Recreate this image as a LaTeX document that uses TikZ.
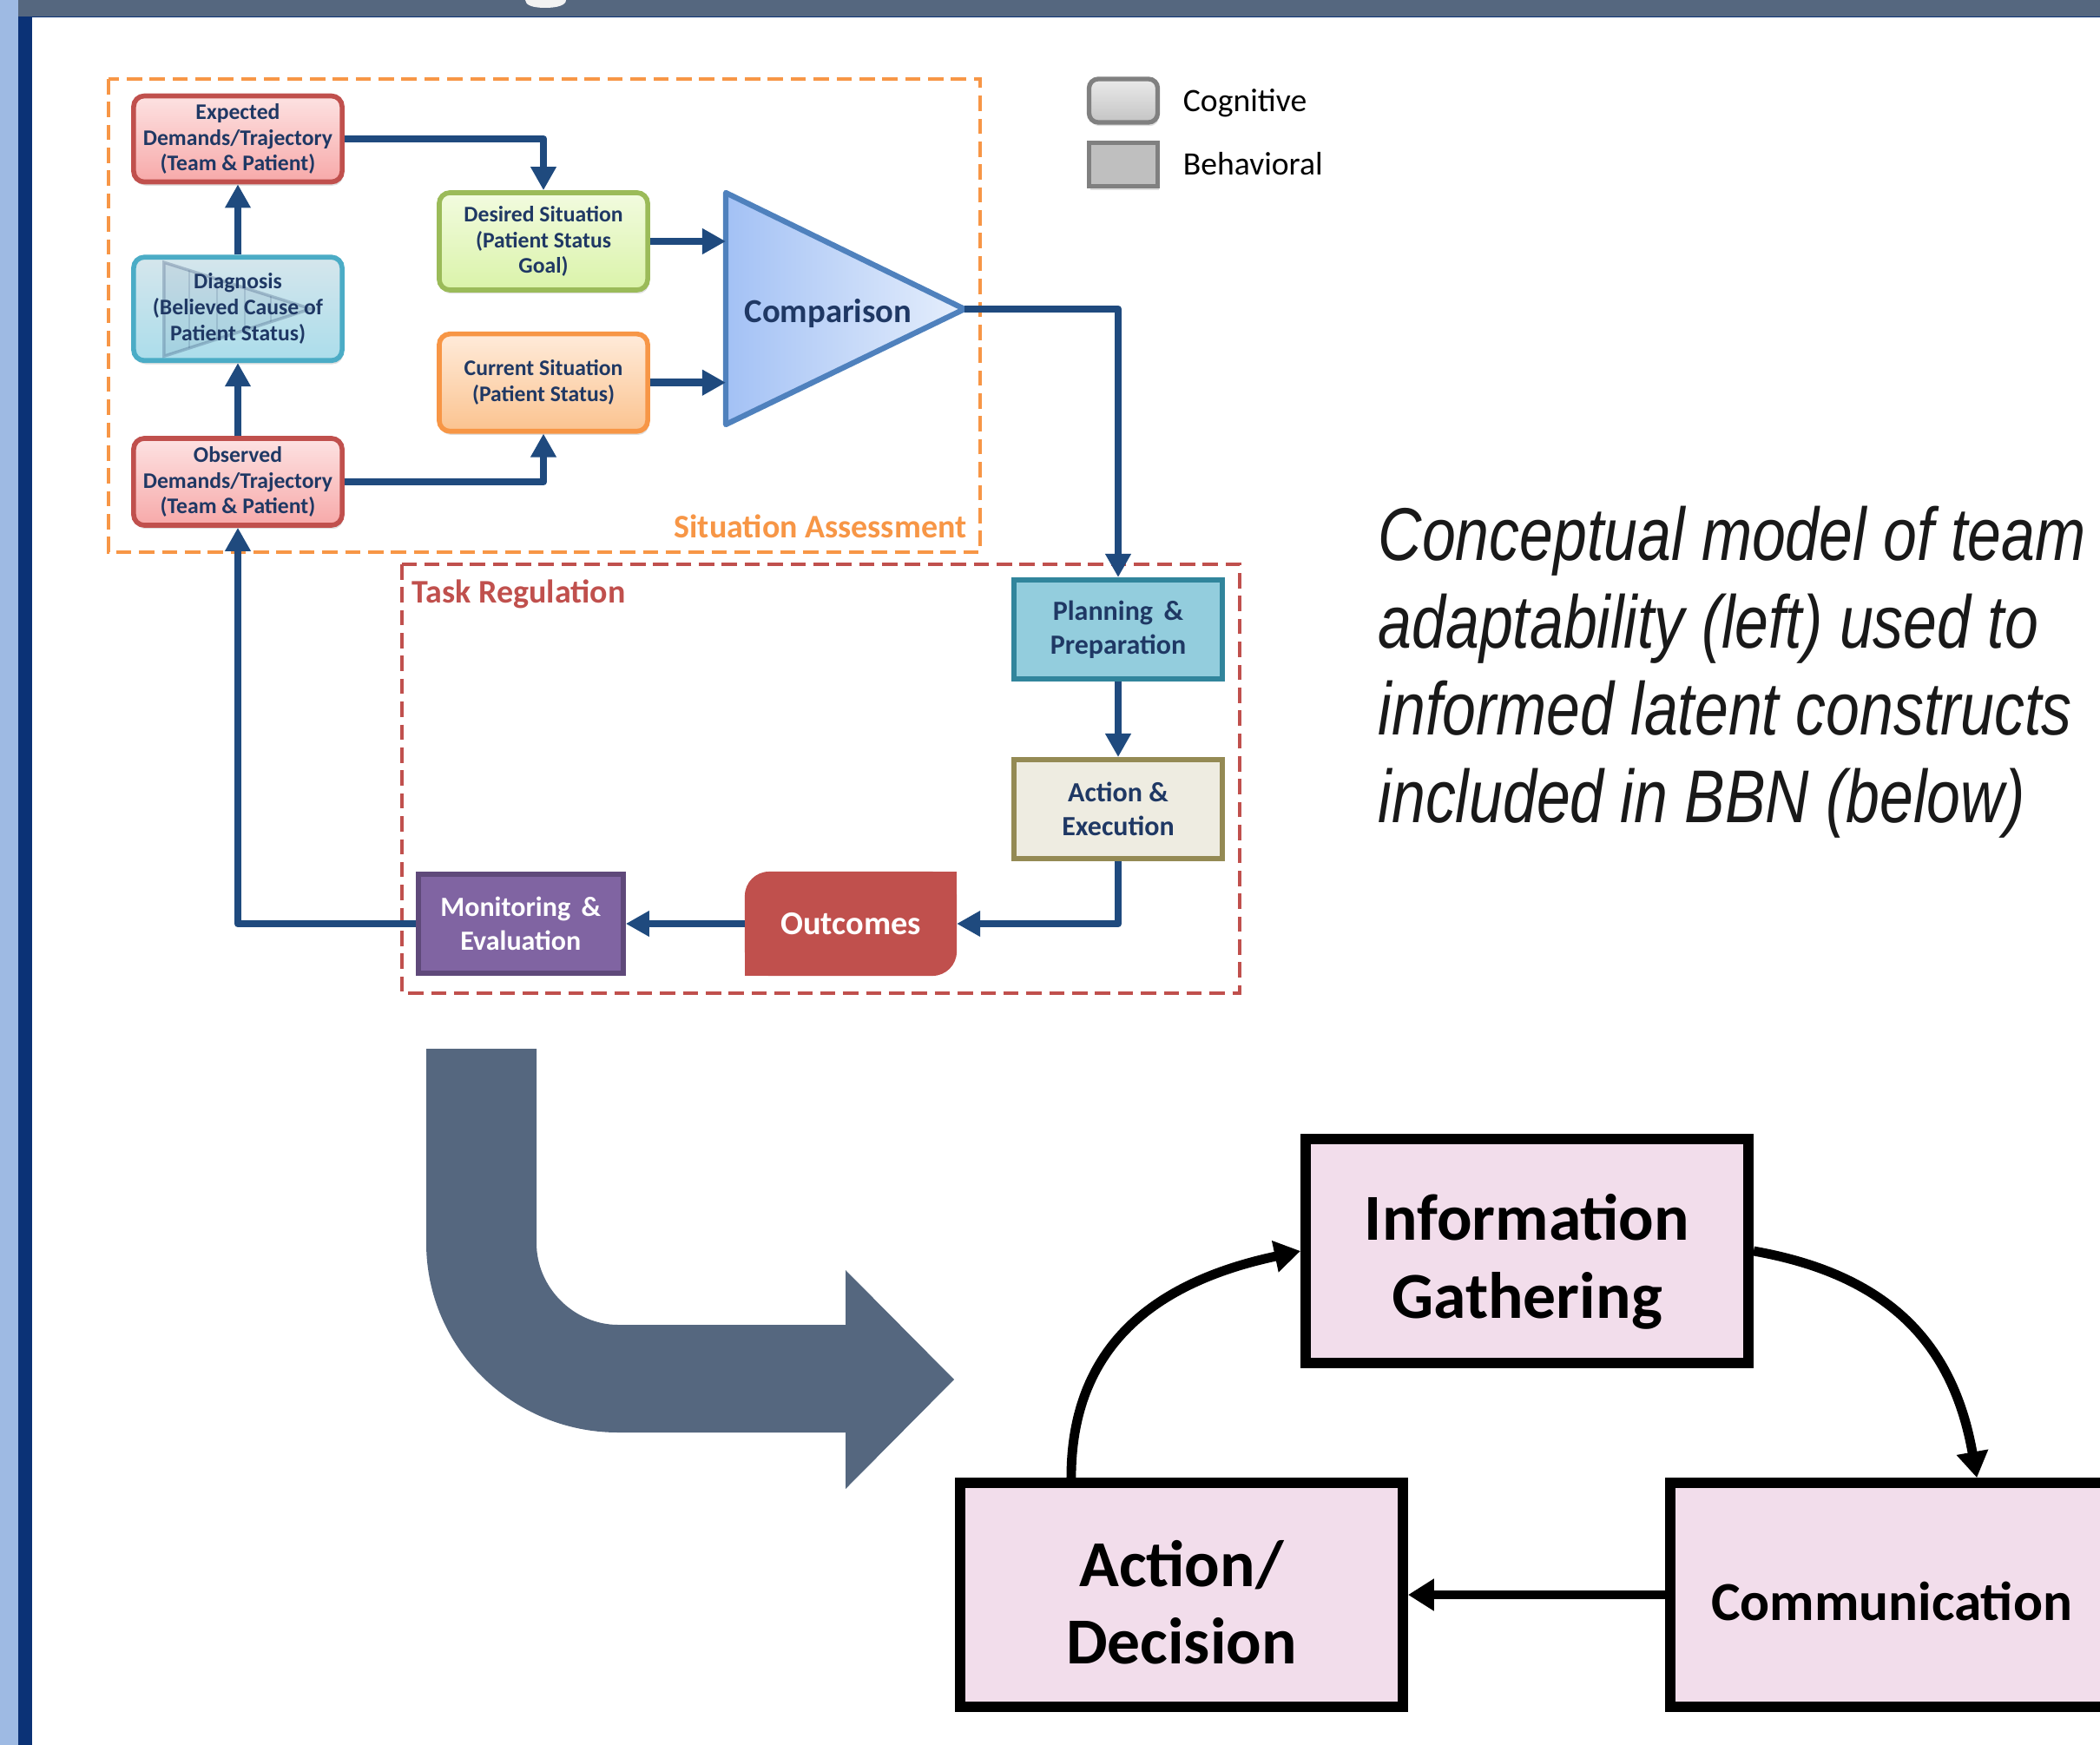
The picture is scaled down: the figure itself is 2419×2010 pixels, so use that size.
\documentclass[tikz,border=0pt]{standalone}
\usepackage{fontspec}
\setmainfont{Carlito}
\newfontfamily\capfont[FakeStretch=0.81]{Liberation Sans}
\usetikzlibrary{arrows.meta,backgrounds,positioning,shadows}

\definecolor{barslate}{HTML}{55677F}
\definecolor{stripblue}{HTML}{9EBAE3}
\definecolor{stripnavy}{HTML}{0B3276}
\definecolor{flowblue}{HTML}{1F4A7E}
\definecolor{boxtext}{HTML}{1F3864}
\definecolor{sared}{HTML}{C0504D}
\definecolor{saorange}{HTML}{F79646}
\definecolor{redtop}{HTML}{FDE2E2}
\definecolor{redbot}{HTML}{F7A9A9}
\definecolor{diagtop}{HTML}{D5E6EC}
\definecolor{diagbot}{HTML}{ABDDEB}
\definecolor{diagline}{HTML}{4BACC6}
\definecolor{desirtop}{HTML}{F2FBDF}
\definecolor{desirbot}{HTML}{DAF3A9}
\definecolor{desirline}{HTML}{9BBB59}
\definecolor{currtop}{HTML}{FFEBDA}
\definecolor{currbot}{HTML}{FBC38F}
\definecolor{cmpleft}{HTML}{A3C1F5}
\definecolor{cmpright}{HTML}{E6EFFC}
\definecolor{cmpline}{HTML}{4F81BD}
\definecolor{planfill}{HTML}{93CDDD}
\definecolor{planline}{HTML}{31859C}
\definecolor{actfill}{HTML}{EEECE1}
\definecolor{actline}{HTML}{948A54}
\definecolor{monfill}{HTML}{8064A2}
\definecolor{monline}{HTML}{5F497A}
\definecolor{legline}{HTML}{808080}
\definecolor{legtop}{HTML}{EAEAEA}
\definecolor{legbot}{HTML}{C4C4C4}
\definecolor{legfill}{HTML}{BFBFBF}
\definecolor{bbnpink}{HTML}{F2DDEB}

\begin{document}
\begin{tikzpicture}
    [x=0.01cm, y=-0.01cm,
    % STYLES
    % The sabox style is used for the boxes of the situation assessment
    sabox/.style={rectangle, rounded corners=3.5pt, line width=1.6pt, minimum width=2.40cm, align=center, inner sep=1pt, text=boxtext, font=\bfseries\fontsize{7.3}{8.5}\selectfont, drop shadow={opacity=0.25, shadow xshift=0.4pt, shadow yshift=-1.2pt}},
    % The trbox style is used for the boxes of the task regulation
    trbox/.style={rectangle, line width=1.7pt, minimum width=2.40cm, minimum height=1.14cm, align=center, inner sep=1pt, font=\bfseries\fontsize{9.1}{11.2}\selectfont},
    flow/.style={line width=2.4pt, draw=flowblue, line join=round, -{Triangle[length=7.7pt,width=8pt]}},
    areabox/.style={line width=1pt, dash pattern=on 5pt off 2.5pt},
    arealabel/.style={font=\bfseries\fontsize{10.8}{12}\selectfont, inner sep=0pt},
    legbox/.style={rectangle, draw=legline, line width=1.5pt, minimum width=0.79cm, minimum height=0.50cm, drop shadow={opacity=0.25, shadow xshift=0.4pt, shadow yshift=-1.2pt}},
    legtext/.style={font=\fontsize{10.7}{13}\selectfont, inner sep=0pt, text height=7pt, text depth=0pt},
    % The bbnbox style is used for the constructs of the BBN
    bbnbox/.style={rectangle, draw=black, line width=3.3pt, fill=bbnpink, minimum width=5.10cm, minimum height=2.58cm, align=center, font=\bfseries\fontsize{21.5}{25.5}\selectfont},
    bbnflow/.style={line width=3.1pt, -{Triangle[length=8.5pt,width=10pt]}},
    captiontext/.style={font=\capfont\itshape\fontsize{24.5}{28.7}\selectfont, align=left, inner sep=0pt, anchor=north west}]

    \useasboundingbox (0,0) rectangle (2419,2010);
    \clip (0,0) rectangle (2419,2010);

    % Slide frame
    \fill[stripblue] (0,0) rectangle (21,2010);
    \fill[barslate] (21,0) rectangle (2419,19);
    \fill[stripnavy] (21,19) rectangle (2419,20.5);
    \fill[stripnavy] (21,19) rectangle (37,2010);
    \fill[white!95!black] (605,0) -- (652,0) .. controls (652,6) and (642,9) .. (628,9) .. controls (614,9) and (605,6) .. (605,0) -- cycle;

    % Draw areas
    \draw[areabox, draw=saorange] (125,91) rectangle (1129,636);
    \draw[areabox, draw=sared] (463,650) rectangle (1428,1144);
    \node[arealabel, text=saorange, anchor=east] (salabel) at (1114,606) {Situation Assessment};
    \node[arealabel, text=sared, anchor=west] (trlabel) at (474,684) {Task Regulation};

    % Draw situation assessment
    \node[sabox, draw=sared, top color=redtop, bottom color=redbot, minimum height=1.00cm] (observed) at (274,555) {Observed\\Demands/Trajectory\\(Team \& Patient)};
    \node[sabox, draw=diagline, top color=diagtop, bottom color=diagbot, minimum height=1.19cm, above=0.84cm of observed,
    path picture={
    \coordinate (wmtop) at ([xshift=0.35cm,yshift=-0.06cm]path picture bounding box.north west);
    \coordinate (wmbot) at ([xshift=0.35cm,yshift=0.05cm]path picture bounding box.south west);
    \coordinate (wmtip) at ([xshift=-0.36cm]path picture bounding box.east);
    \begin{scope}[sharp corners]
    \clip (wmtop) -- (wmtip) -- (wmbot) -- cycle;
    \fill[boxtext, opacity=0.07] (wmtop) rectangle (wmtip |- wmbot);
    \foreach \dx in {0.29,0.61,0.93,1.23}
    \draw[boxtext, opacity=0.15, line width=0.6pt] ([xshift=\dx cm]wmtop) -- ([xshift=\dx cm]wmbot);
    \end{scope}
    \draw[boxtext, opacity=0.25, line width=1pt, sharp corners] (wmtop) -- (wmtip) -- (wmbot) -- cycle;
    }] (diagnosis) {Diagnosis\\(Believed Cause of\\Patient Status)};
    \node[sabox, draw=sared, top color=redtop, bottom color=redbot, minimum height=0.99cm, above=0.81cm of diagnosis] (expected) {Expected\\Demands/Trajectory\\(Team \& Patient)};
    \node[sabox, draw=desirline, top color=desirtop, bottom color=desirbot, minimum height=1.12cm] (desired) at (626,278) {Desired Situation\\(Patient Status\\Goal)};
    \node[sabox, draw=saorange, top color=currtop, bottom color=currbot, minimum height=1.12cm, below=0.45cm of desired] (current) {Current Situation\\(Patient Status)};

    % Comparison
    \coordinate (cmptop) at (836,222);
    \coordinate (cmpbot) at (836,489);
    \coordinate (cmptip) at (1111,356);
    \path[draw=cmpline, line width=1.8pt, line join=round, left color=cmpleft, right color=cmpright] (cmptop) -- (cmptip) -- (cmpbot) -- cycle;
    \node[font=\bfseries\fontsize{11}{13}\selectfont, text=boxtext] (comparison) at (954,361) {Comparison};

    % Draw task regulation
    \node[trbox, draw=planline, fill=planfill, text=boxtext] (planning) at (1288,725) {Planning\, \&\\Preparation};
    \node[trbox, draw=actline, fill=actfill, text=boxtext, below=0.87cm of planning] (action) {Action \&\\Execution};
    \node[trbox, fill=sared, text=white, rounded corners=0.28cm, outer sep=0pt, minimum width=2.44cm, minimum height=1.20cm, font=\bfseries\fontsize{10.9}{13}\selectfont] (outcomes) at (980,1064) {Outcomes};
    \node[trbox, draw=monline, fill=monfill, text=white, minimum width=2.36cm, left=1.37cm of outcomes] (monitoring) {Monitoring\, \&\\Evaluation};
    \begin{pgfonlayer}{background}
    \fill[sared] (outcomes.north) rectangle (outcomes.east);
    \fill[sared] (outcomes.west) rectangle (outcomes.south);
    \end{pgfonlayer}

    \draw[flow] (observed) -- (diagnosis);
    \draw[flow] (diagnosis) -- (expected);
    \draw[flow] (expected.east) -| (desired.north);
    \draw[flow] (observed.east) -| (current.south);
    \draw[flow] (desired.east) -- (desired.east -| cmptop);
    \draw[flow] (current.east) -- (current.east -| cmptop);
    \draw[flow] (cmptip) -| (planning.north);
    \draw[flow] (planning) -- (action);
    \draw[flow] (action.south) |- (outcomes.east);
    \draw[flow] (outcomes) -- (monitoring);
    \draw[flow] (monitoring.west) -| (observed.south);

    % Legend
    \node[legbox, rounded corners=3pt, top color=legtop, bottom color=legbot] (cog) at (1294,116) {};
    \node[legbox, fill=legfill, below=0.18cm of cog] (beh) {};
    \node[legtext, right=0.26cm of cog] (cogtext) {Cognitive};
    \node[legtext, right=0.26cm of beh] (behtext) {Behavioral};

    % Caption
    \node[captiontext, text=black!90] (caption) at (1587,582) {Conceptual model of team\\adaptability (left) used to\\informed latent constructs\\included in BBN (below)};

    % Bent arrow
    \fill[barslate] (491,1208) -- (618,1208) -- (618,1432) .. controls (618,1483) and (661,1526) .. (712,1526) -- (974,1526) -- (974,1463) -- (1099,1589) -- (974,1715) -- (974,1650) -- (712,1650) .. controls (590,1650) and (491,1552) .. (491,1432) -- cycle;

    % Draw BBN constructs
    \node[bbnbox] (actdec) at (1361,1837) {\rule{0pt}{20pt}Action/\\Decision};
    \node[bbnbox, right=2.96cm of actdec, font=\bfseries\fontsize{18}{22}\selectfont] (comm) {\rule{0pt}{17pt}Communication};
    \node[bbnbox] (info) at (1759,1441) {\rule{0pt}{22pt}Information\\Gathering};

    \draw[bbnflow] ([xshift=-1.27cm]actdec.north) to[out=90, in=192, looseness=1.1] (info.west);
    \draw[bbnflow] (info.east) to[out=-10, in=100, looseness=1.1] ([xshift=0.98cm]comm.north);
    \draw[bbnflow] (comm) -- (actdec);
\end{tikzpicture}
\end{document}
